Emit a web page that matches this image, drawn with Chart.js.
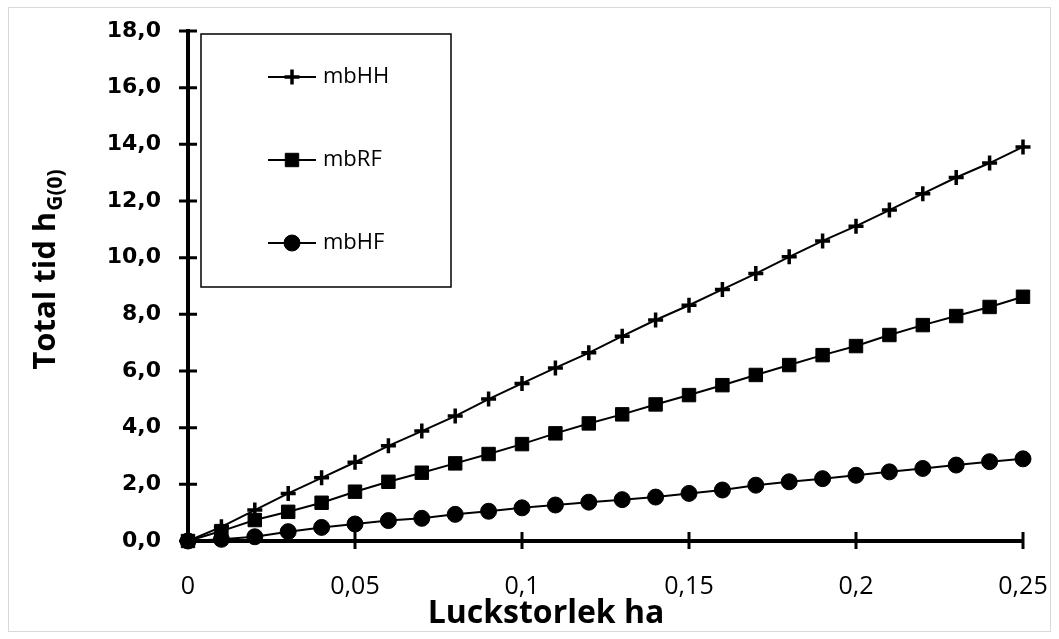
<!DOCTYPE html>
<html>
<head>
<meta charset="utf-8">
<script src="https://cdn.jsdelivr.net/npm/chart.js@4.4.0/dist/chart.umd.min.js"></script>
<style>
  html, body { margin: 0; padding: 0; background: #fff; }
  #wrap { position: relative; width: 1059px; height: 639px; }
  #frame { position: absolute; left: 8px; top: 7px; width: 1043px; height: 625px; border: 1px solid #d9d9d9; box-sizing: border-box; pointer-events: none; }
</style>
</head>
<body>
<div id="wrap">
  <canvas id="chart" width="1059" height="639"></canvas>
  <div id="frame"></div>
</div>
<script>
// Luckstorlek (ha) on the x axis
const luckstorlek = [0, 0.01, 0.02, 0.03, 0.04, 0.05, 0.06, 0.07, 0.08, 0.09, 0.10, 0.11, 0.12,
                     0.13, 0.14, 0.15, 0.16, 0.17, 0.18, 0.19, 0.20, 0.21, 0.22, 0.23, 0.24, 0.25];

// Total tid hG(0)
const mbHH = [0, 0.50, 1.09, 1.68, 2.23, 2.78, 3.36, 3.88, 4.41, 5.01, 5.56, 6.11, 6.64,
              7.23, 7.80, 8.32, 8.88, 9.44, 10.03, 10.59, 11.11, 11.68, 12.26, 12.83, 13.34, 13.91];
const mbRF = [0, 0.35, 0.74, 1.03, 1.35, 1.74, 2.09, 2.41, 2.74, 3.07, 3.42, 3.80, 4.15,
              4.47, 4.82, 5.15, 5.50, 5.86, 6.21, 6.56, 6.88, 7.27, 7.62, 7.94, 8.26, 8.62];
const mbHF = [0, 0.06, 0.15, 0.33, 0.48, 0.60, 0.72, 0.80, 0.94, 1.05, 1.17, 1.27, 1.37,
              1.46, 1.55, 1.68, 1.80, 1.97, 2.09, 2.20, 2.32, 2.44, 2.56, 2.68, 2.80, 2.90];

const seriesNames = ['mbHH', 'mbRF', 'mbHF'];
const xTitle = 'Luckstorlek ha';
const yTitle = 'Total tid h';
const yTitleSub = 'G(0)';

const toPoints = ys => ys.map((v, i) => ({ x: luckstorlek[i], y: v }));
const comma = v => String(Math.round(v * 100) / 100).replace('.', ',');

// ticks that cross the axis lines, like the original
const crossTicks = {
    id: 'crossTicks',
    beforeDatasetsDraw(chart) {
        const { ctx, scales: { x, y }, chartArea } = chart;
        ctx.save();
        ctx.strokeStyle = '#000';
        ctx.lineWidth = 3;
        ctx.beginPath();
        x.ticks.forEach(t => {
            const px = x.getPixelForValue(t.value);
            ctx.moveTo(px, chartArea.bottom - 9);
            ctx.lineTo(px, chartArea.bottom + 8);
        });
        y.ticks.forEach(t => {
            const py = y.getPixelForValue(t.value);
            ctx.moveTo(chartArea.left - 9, py);
            ctx.lineTo(chartArea.left + 9, py);
        });
        ctx.stroke();
        ctx.restore();
    }
};

// axis titles (y title has a subscript) and the boxed legend
const titlesAndLegend = {
    id: 'titlesAndLegend',
    afterDraw(chart) {
        const { ctx, chartArea } = chart;
        ctx.save();
        ctx.fillStyle = '#000';

        ctx.font = 'bold 32px "Open Sans"';
        ctx.textAlign = 'center';
        ctx.textBaseline = 'alphabetic';
        ctx.fillText(xTitle, 546, 623);

        ctx.translate(55, 270);
        ctx.rotate(-Math.PI / 2);
        ctx.textAlign = 'left';
        ctx.font = 'bold 31px "Open Sans"';
        const w1 = ctx.measureText(yTitle).width;
        ctx.font = 'bold 21px "Open Sans"';
        const w2 = ctx.measureText(yTitleSub).width;
        const start = -(w1 + w2) / 2;
        ctx.font = 'bold 31px "Open Sans"';
        ctx.fillText(yTitle, start, 0);
        ctx.font = 'bold 21px "Open Sans"';
        ctx.fillText(yTitleSub, start + w1 + 1, 7);
        ctx.setTransform(1, 0, 0, 1, 0, 0);

        // legend box
        const bx = chartArea.left + 13, by = chartArea.top + 3;
        ctx.strokeStyle = '#000';
        ctx.lineWidth = 1.5;
        ctx.strokeRect(bx, by, 250, 253);
        chart.data.datasets.forEach((ds, i) => {
            const cy = by + 43 + i * 83;
            ctx.beginPath();
            ctx.lineWidth = 2;
            ctx.moveTo(bx + 67, cy);
            ctx.lineTo(bx + 115, cy);
            ctx.stroke();
            ctx.fillStyle = '#000';
            ctx.strokeStyle = '#000';
            ctx.lineWidth = ds.pointBorderWidth;
            Chart.helpers.drawPoint(ctx, {
                pointStyle: ds.pointStyle,
                radius: ds.pointRadius,
                borderWidth: ds.pointBorderWidth,
                rotation: 0
            }, bx + 91, cy);
            ctx.font = '22px "Open Sans"';
            ctx.textAlign = 'left';
            ctx.textBaseline = 'middle';
            ctx.fillText(ds.label, bx + 122, cy);
        });
        ctx.restore();
    }
};

const seriesStyle = (label, data, pointStyle, radius, bw) => ({
    label: label,
    data: toPoints(data),
    borderColor: '#000',
    backgroundColor: '#000',
    borderWidth: 2,
    pointStyle: pointStyle,
    pointRadius: radius,
    pointBorderWidth: bw,
    pointBackgroundColor: '#000',
    pointBorderColor: '#000',
    clip: false
});

new Chart(document.getElementById('chart').getContext('2d'), {
    type: 'line',
    data: {
        datasets: [
            seriesStyle(seriesNames[0], mbHH, 'cross', 7.5, 3.5),
            seriesStyle(seriesNames[1], mbRF, 'rect', 9.5, 1),
            seriesStyle(seriesNames[2], mbHF, 'circle', 8, 1)
        ]
    },
    options: {
        responsive: false,
        animation: false,
        layout: { padding: { top: 31, right: 36, left: 0, bottom: 0 } },
        plugins: {
            legend: { display: false },
            tooltip: { enabled: false }
        },
        scales: {
            x: {
                type: 'linear',
                min: 0,
                max: 0.25,
                afterFit: s => { s.height = 98; },
                // invisible tick marks only hold the labels away from the axis
                grid: { drawOnChartArea: false, drawTicks: true, tickLength: 31, color: 'rgba(0,0,0,0)' },
                border: { color: '#000', width: 4 },
                ticks: {
                    stepSize: 0.05,
                    padding: 0,
                    color: '#000',
                    font: { family: 'Open Sans', size: 25 },
                    callback: v => comma(v)
                }
            },
            y: {
                min: 0,
                max: 18,
                afterFit: s => { s.width = 188; },
                grid: { drawOnChartArea: false, drawTicks: true, tickLength: 27, color: 'rgba(0,0,0,0)' },
                border: { color: '#000', width: 4 },
                ticks: {
                    stepSize: 2,
                    padding: 0,
                    color: '#000',
                    font: { family: 'DejaVu Sans', size: 22, weight: 'bold' },
                    callback: v => v.toFixed(1).replace('.', ',')
                }
            }
        }
    },
    plugins: [crossTicks, titlesAndLegend]
});
</script>
</body>
</html>
